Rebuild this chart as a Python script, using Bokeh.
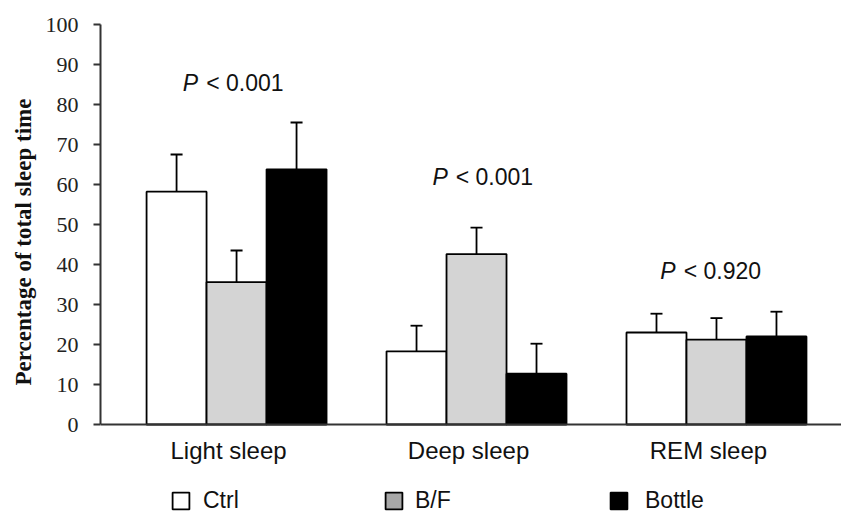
from bokeh.plotting import figure
from bokeh.models import Range1d, FixedTicker, Legend, LegendItem, Span, Title
from bokeh.core.properties import value
from bokeh.embed import file_html
from bokeh.resources import INLINE

# ---- data ----
categories = ["Light sleep", "Deep sleep", "REM sleep"]
groups = ["Ctrl", "B/F", "Bottle"]
ctrl_mean = [58.2, 18.3, 23.0]
ctrl_sd = [9.3, 6.4, 4.7]
bf_mean = [35.6, 42.6, 21.2]
bf_sd = [7.9, 6.6, 5.4]
bottle_mean = [63.8, 12.7, 22.0]
bottle_sd = [11.7, 7.5, 6.2]
p_texts = ["< 0.001", "< 0.001", "< 0.920"]
p_label_y = [85.5, 62.0, 38.5]
y_ticks = [0, 10, 20, 30, 40, 50, 60, 70, 80, 90, 100]
y_label = "Percentage of total sleep time"

# ---- styles ----
bar_fills = ["white", "#d4d4d4", "black"]
legend_fills = ["white", "#a8a8a8", "black"]
offsets = [-0.25, 0.0, 0.25]
bar_w = 0.25
cap_half = 0.025
p_label_x_off = [-0.16, -0.12, -0.17]
cat_label_y = -6.5
legend_x = [70, 283, 508]
legend_standoff = [12, 11, 16]
NAN = float("nan")

p = figure(width=841, height=512, x_range=Range1d(-0.567, 2.521), y_range=Range1d(-22, 100),
           output_backend="svg", toolbar_location=None,
           min_border_left=100, min_border_right=0, min_border_top=24, min_border_bottom=0)
p.outline_line_color = None
p.xgrid.visible = False
p.ygrid.visible = False
p.xaxis.visible = False
p.background_fill_color = "white"
p.border_fill_color = "white"

means = [ctrl_mean, bf_mean, bottle_mean]
sds = [ctrl_sd, bf_sd, bottle_sd]
for g in range(3):
    xs = [k + offsets[g] for k in range(len(categories))]
    tops = [m + s for m, s in zip(means[g], sds[g])]
    p.vbar(x=xs, top=means[g], bottom=0, width=bar_w, fill_color=bar_fills[g],
           line_color="black", line_width=1.8)
    p.segment(x0=xs, y0=means[g], x1=xs, y1=tops, line_color="black", line_width=1.8)
    p.segment(x0=[x - cap_half for x in xs], y0=tops, x1=[x + cap_half for x in xs], y1=tops,
              line_color="black", line_width=1.8)

# x axis line at 0
p.add_layout(Span(location=0, dimension="width", line_color="#333333", line_width=2))

# category labels
p.text(x=list(range(len(categories))), y=[cat_label_y] * len(categories), text=categories,
       text_font=value("Liberation Sans"), text_font_size="24px", text_align="center",
       text_baseline="middle", text_color="#111111", x_offset=-8)

# P-value labels
px = [k + o for k, o in zip(range(len(categories)), p_label_x_off)]
p.text(x=px, y=p_label_y, text=["P"] * 3, text_font=value("Liberation Sans"),
       text_font_style="italic", text_font_size="23px", text_align="right",
       text_baseline="middle", text_color="#111111")
p.text(x=px, y=p_label_y, text=p_texts, text_font=value("Liberation Sans"),
       text_font_size="23px", text_align="left", text_baseline="middle",
       text_color="#111111", x_offset=8)

# y axis
p.yaxis.bounds = (0, 100)
p.yaxis.ticker = FixedTicker(ticks=y_ticks)
p.yaxis.major_label_text_font = "Liberation Serif"
p.yaxis.major_label_text_font_size = "22px"
p.yaxis.major_label_text_color = "#222222"
p.yaxis.major_tick_in = 0
p.yaxis.major_tick_out = 7
p.yaxis.minor_tick_in = 0
p.yaxis.minor_tick_out = 0
p.yaxis.major_label_standoff = 15
p.yaxis.axis_line_width = 2
p.yaxis.axis_line_color = "#333333"
p.yaxis.major_tick_line_width = 2
p.yaxis.major_tick_line_color = "#333333"

p.add_layout(Title(text=y_label, align="left", offset=127, standoff=13,
                   text_font="Liberation Serif", text_font_style="bold",
                   text_font_size="23px", text_color="#111111"), "left")

# legends (swatch renderers hold no drawable point)
for name, fill, lx, st in zip(groups, legend_fills, legend_x, legend_standoff):
    r = p.vbar(x=[NAN], top=[NAN], width=0.2, fill_color=fill, line_color="black", line_width=1.8)
    leg = Legend(items=[LegendItem(label=name, renderers=[r])], location=(lx, -2),
                 glyph_width=21, glyph_height=21, label_standoff=st,
                 label_text_font="Liberation Sans", label_text_font_size="23px",
                 label_text_color="#111111", border_line_color=None,
                 background_fill_alpha=0, padding=0, margin=0)
    p.add_layout(leg, "center")

open("out.html", "w").write(file_html(p, INLINE))
